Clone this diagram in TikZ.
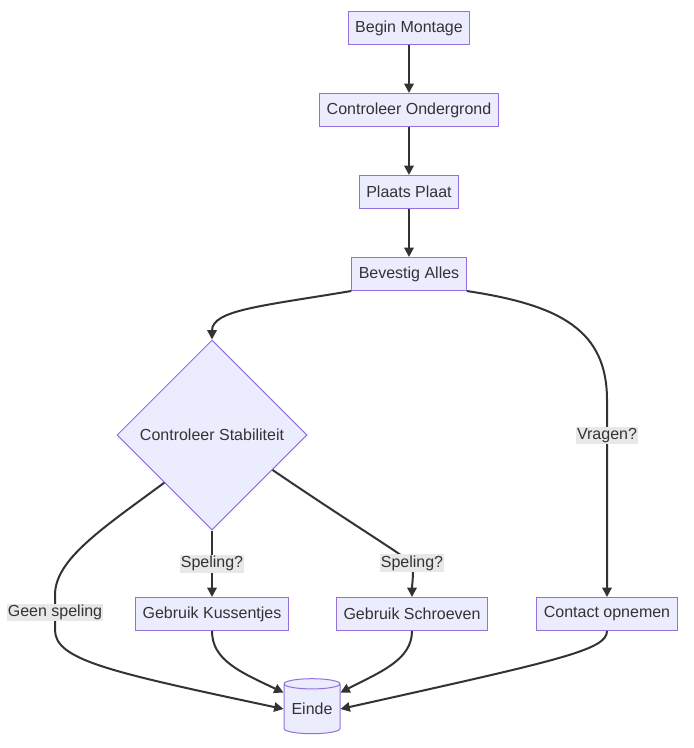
\documentclass[tikz,border=0pt]{standalone}
\usepackage{fontspec}
\setmainfont{Liberation Sans}
\usetikzlibrary{positioning,shapes.geometric,arrows.meta}

\definecolor{boxfill}{HTML}{ECECFF}
\definecolor{boxline}{HTML}{9370DB}
\definecolor{ink}{HTML}{333333}
\definecolor{lblfill}{HTML}{E8E8E8}

\tikzset{
  box/.style={draw=boxline, fill=boxfill, text=ink, line width=0.75pt,
    inner xsep=5.25pt, minimum height=24.75pt, font=\fontsize{12}{14}\selectfont},
  ruit/.style={draw=boxline, fill=boxfill, text=ink, line width=0.75pt, shape=diamond,
    aspect=1, inner sep=0pt, minimum size=142.5pt, font=\fontsize{12}{14}\selectfont},
  ton/.style={draw=boxline, fill=boxfill, text=ink, line width=0.75pt, shape=cylinder,
    shape border rotate=90, aspect=0.25, minimum width=42pt, minimum height=41.25pt,
    inner sep=0pt, font=\fontsize{12}{14}\selectfont},
  lbl/.style={fill=lblfill, text=ink, inner sep=1pt, font=\fontsize{12}{14}\selectfont},
  pijl/.style={draw=ink, line width=1.5pt, -{Triangle[length=7pt,width=7pt]}}
}

\begin{document}
\begin{tikzpicture}[x=0.75pt,y=-0.75pt]
\useasboundingbox (0,0) rectangle (693,748);

\node[box] (begin) at (409,28) {Begin Montage};
\node[box] (ondergrond) at (409,110) {Controleer Ondergrond};
\node[box] (plaat) at (409,192) {Plaats Plaat};
\node[box] (bevestig) at (409,274) {Bevestig Alles};
\node[ruit] (stab) at (212,435) {Controleer Stabiliteit};
\node[box] (kussen) at (212,614) {Gebruik Kussentjes};
\node[box] (schroef) at (412,614) {Gebruik Schroeven};
\node[box] (contact) at (607,614) {Contact opnemen};
\node[ton] (einde) at (312,709) {Einde};

\draw[pijl] (begin) -- (ondergrond);
\draw[pijl] (ondergrond) -- (plaat);
\draw[pijl] (plaat) -- (bevestig);
\draw[pijl] (bevestig.south west) .. controls (262,306) and (212,310) .. (stab.north);
\draw[pijl] (bevestig.south east) .. controls (560,305) and (607,330) .. (607,400)
  -- node[lbl,pos=0.18]{Vragen?} (contact.north);

\draw[pijl] (stab.south west) .. controls (100,530) and (55,560) .. (55,595)
  -- node[lbl]{Geen speling} (55,630) .. controls (55,660) and (110,672) .. (einde.west);
\draw[pijl] (stab.south) -- node[lbl]{Speling?} (kussen.north);
\draw[pijl] (stab.-30) .. controls (340,516) and (395,550) .. (412,563) node[lbl]{Speling?}
  .. controls (414,572) and (412,585) .. (schroef.north);

		\draw[pijl] (kussen.south) .. controls (212,660) and (240,672) .. (einde.150);
		\draw[pijl] (schroef.south) .. controls (412,660) and (380,672) .. (einde.30);
		\draw[pijl] (contact.south) .. controls (607,650) and (560,660) .. (einde.east);

\end{tikzpicture}
\end{document}
